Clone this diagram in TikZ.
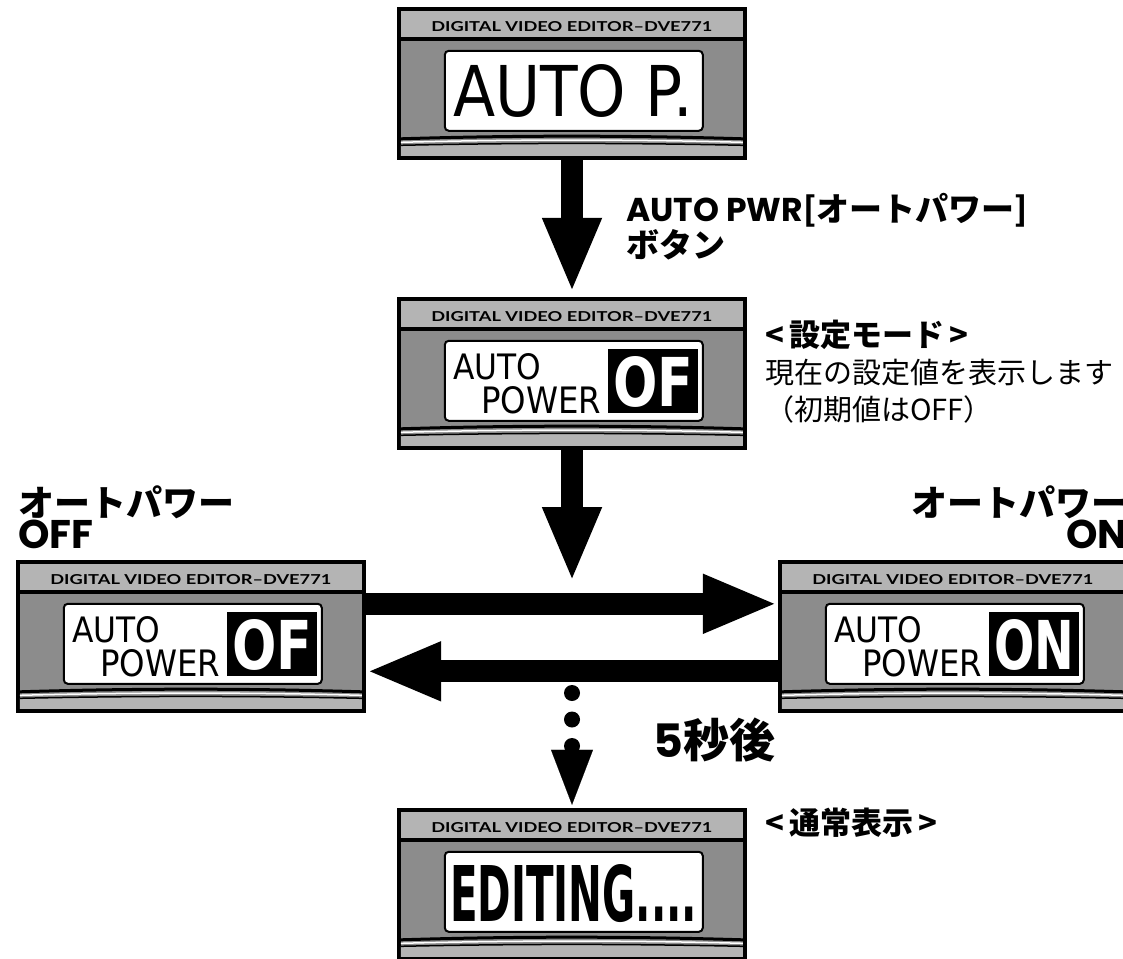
\documentclass[tikz,border=0pt]{standalone}
\usepackage{fontspec}
\usepackage{graphicx}
\usetikzlibrary{arrows.meta}
\setmainfont{Liberation Sans}
\newfontfamily\jp{Noto Sans CJK JP}
\newfontfamily\lat{Poppins}
\newfontfamily\lcd{DejaVu Sans}
\newfontfamily\hdr{Lato}
\definecolor{hdgray}{HTML}{B4B4B4}
\definecolor{bodygray}{HTML}{8C8C8C}

% one DVE771 front panel: name, left x, top y, what the LCD shows
\newcommand{\dvepanel}[4]{%
  \node[panel] (#1) at (#2+175,#3+76.5) {};
  \begin{scope}[shift={(#1.north west)}]
    \fill[hdgray] (4,4) rectangle (346,30);
    \fill[bodygray] (4,34) rectangle (346,149);
    \fill[hdgray] (4,138.5) .. controls (120,136) and (230,136) .. (346,138.5) -- (346,149) -- (4,149) -- cycle;
    \draw[line width=1.5pt] (4,138.5) .. controls (120,136) and (230,136) .. (346,138.5);
    \draw[white, line width=1.5pt] (4,135.5) .. controls (120,132.5) and (230,132.5) .. (346,135.5);
    \draw[line width=3pt] (4,132) .. controls (120,128.5) and (230,128.5) .. (346,132);
    \draw[line width=2pt, fill=white, rounded corners=4pt] (48,44) rectangle (306,124);
    \node[lcdtext, anchor=base] (#1-hdr) at (175,25) {\resizebox{281pt}{10pt}{\hdr\bfseries DIGITAL VIDEO EDITOR–DVE771}};
    #4
  \end{scope}}

% AUTO / POWER with the value shown inverted
\newcommand{\autopower}[2]{%
  \node[lcdtext] (#1-auto) at (56,83) {\resizebox{88pt}{26pt}{\lcd AUTO}};
  \node[lcdtext] (#1-power) at (84,117) {\resizebox{120pt}{27pt}{\lcd POWER}};
  \node[fill=black, minimum width=90pt, minimum height=64pt, inner sep=0pt, anchor=north west] (#1-inv) at (211,52) {};
  \node[lcdtext, text=white] (#1-val) at (216,110) {\resizebox{80pt}{50pt}{\lcd\bfseries #2}};}

\begin{document}
\begin{tikzpicture}
[
    x=1pt, y=-1pt,
    panel/.style={fill=black, minimum width=350pt, minimum height=153pt, inner sep=0pt},
    lcdtext/.style={inner sep=0pt, anchor=base west},
    title/.style={inner sep=0pt, font=\jp\bfseries\fontsize{36}{32}\selectfont},
    note/.style={inner sep=0pt, anchor=base west, align=left, font=\jp\fontsize{29}{37}\selectfont},
    bigarrow/.style={line width=22pt, -{Triangle[width=54pt,length=75pt]}},
]
\useasboundingbox (0,0) rectangle (1123,958);

% panels
\dvepanel{p1}{397}{7}{\node[lcdtext] (p1-txt) at (56,110) {\resizebox{240pt}{52pt}{\lcd AUTO P.}};}
\dvepanel{p2}{397}{297}{\autopower{p2}{OF}}
\dvepanel{p3}{16}{560}{\autopower{p3}{OF}}
\dvepanel{p4}{778}{560}{\autopower{p4}{ON}}
\dvepanel{p5}{397}{808}{\node[lcdtext] (p5-txt) at (53,114) {\resizebox{247pt}{57pt}{\lcd\bfseries EDITING....}};}

% labels (base = last line)
\node[note, font=\jp\bfseries\fontsize{33}{36}\selectfont] (btn) at (626,257)
    {{\lat AUTO PWR}[オートパワー]\\ボタン};
\node[note] (setmode) at (765,420)
    {{\bfseries\fontsize{31}{37}\selectfont <\,設定モード\,>}\\現在の設定値を表示します\\（初期値はOFF）};
\node[title, anchor=base west, align=left] (offlbl) at (18,548) {オートパワー\\{\lat\fontsize{40}{32}\selectfont OFF}};
\node[title, anchor=base east, align=right] (onlbl) at (1128,548) {オートパワー\\{\lat\fontsize{40}{32}\selectfont ON}};
\node[note, font=\jp\bfseries\fontsize{46}{46}\selectfont] (wait) at (653,757) {{\lat 5}秒後};
\node[note, font=\jp\bfseries\fontsize{31}{37}\selectfont] (normal) at (765,834) {<\,通常表示\,>};

% arrows
\coordinate (split) at (572,582);
\coordinate (dot1) at (572,693);
\coordinate (dot3) at (572,748);
\draw[bigarrow, shorten >=4pt] (p1.south) -- (p2.north);
\draw[bigarrow] (p2.south) -- (split);
\draw[bigarrow] ([yshift=-44pt]p3.north east) -- ([yshift=-44pt]p4.north west);
\draw[bigarrow] ([yshift=-111.5pt]p4.north west) -- ([yshift=-111.5pt]p3.north east);
\draw[line width=16pt, line cap=round, dash pattern=on 0pt off 26.5pt] (dot1) -- (dot3);
\draw[line width=0.1pt, shorten >=3pt, -{Triangle[width=42pt,length=55pt]}] (dot3) -- (p5.north);
\end{tikzpicture}
\end{document}
